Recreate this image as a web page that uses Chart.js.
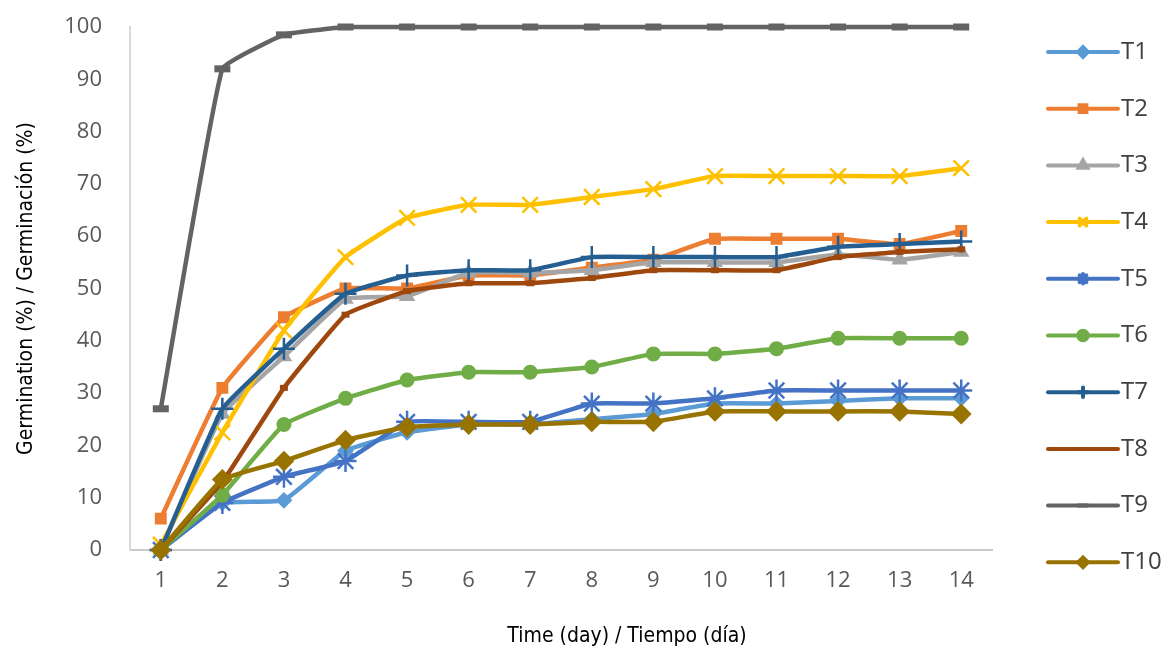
<!DOCTYPE html>
<html>
<head>
<meta charset="utf-8">
<script src="https://cdn.jsdelivr.net/npm/chart.js@4.4.1/dist/chart.umd.min.js"></script>
<style>
    html, body { margin: 0; padding: 0; background: #fff; }
    #wrap { width: 1168px; height: 653px; }
</style>
</head>
<body>
<div id="wrap"><canvas id="germChart"></canvas></div>
<script>
const days = ["1", "2", "3", "4", "5", "6", "7", "8", "9", "10", "11", "12", "13", "14"];
const yTicks = [0, 10, 20, 30, 40, 50, 60, 70, 80, 90, 100];

const t1 = [0, 9, 9.5, 19, 22.5, 24, 24, 25, 26, 28, 28, 28.5, 29, 29];
const t2 = [6, 31, 44.5, 50, 50, 52.5, 52.5, 54, 55.5, 59.5, 59.5, 59.5, 58.5, 61];
const t3 = [0, 26, 37, 48, 48.5, 53, 53, 53.5, 55, 55, 55, 56.5, 55.5, 57];
const t4 = [1, 22.5, 42, 56, 63.5, 66, 66, 67.5, 69, 71.5, 71.5, 71.5, 71.5, 73];
const t5 = [0, 9, 14, 17, 24.5, 24.5, 24.5, 28, 28, 29, 30.5, 30.5, 30.5, 30.5];
const t6 = [0, 10.5, 24, 29, 32.5, 34, 34, 35, 37.5, 37.5, 38.5, 40.5, 40.5, 40.5];
const t7 = [0, 27, 38.5, 49, 52.5, 53.5, 53.5, 56, 56, 56, 56, 58, 58.5, 59];
const t8 = [0, 13, 31, 45, 49.5, 51, 51, 52, 53.5, 53.5, 53.5, 56, 57, 57.5];
const t9 = [27, 92, 98.5, 100, 100, 100, 100, 100, 100, 100, 100, 100, 100, 100];
const t10 = [0, 13.5, 17, 21, 23.5, 24, 24, 24.5, 24.5, 26.5, 26.5, 26.5, 26.5, 26];

const seriesNames = ["T1", "T2", "T3", "T4", "T5", "T6", "T7", "T8", "T9", "T10"];
const seriesData = [t1, t2, t3, t4, t5, t6, t7, t8, t9, t10];
const colors = ["#5B9BD5", "#ED7D31", "#A5A5A5", "#FFC000", "#4472C4",
                "#70AD47", "#255E91", "#9E480E", "#636363", "#997300"];
// marker style per series: [pointStyle, radius, borderWidth]
const markers = [
    ["rectRot", 7, 2], ["rect", 7, 2], ["triangle", 7.5, 2], ["crossRot", 11, 2.5], ["star", 11, 2.5],
    ["circle", 6.5, 2], ["cross", 11, 2.5], ["line", 4, 6], ["line", 8, 7], ["rectRot", 9, 2]
];

const titleFamily = "'Liberation Sans Narrow', 'DejaVu Sans Condensed', 'Roboto', sans-serif";
const titleFont = { family: titleFamily, size: 21 };
const tickFont = { family: "'Open Sans', sans-serif", size: 22 };

const datasets = seriesNames.map((name, i) => ({
    label: name,
    data: seriesData[i],
    borderColor: colors[i],
    backgroundColor: colors[i],
    borderWidth: 4.5,
    tension: 0.1,
    pointStyle: markers[i][0],
    pointRadius: markers[i][1],
    pointBorderWidth: markers[i][2],
    pointBorderColor: colors[i],
    pointBackgroundColor: colors[i],
    clip: false,
    order: seriesNames.length - i
}));

// legend drawn like the spreadsheet one: a line with a small marker, then the name
// plus the x axis title, which sits right of the plot centre in the original
const sideLegend = {
    id: "sideLegend",
    afterDraw(chart) {
        const ctx = chart.ctx;
        const x0 = 1048, x1 = 1118, top = 52, step = 56.7;
        ctx.save();
        datasets.forEach((ds, i) => {
            const y = top + i * step;
            ctx.strokeStyle = ds.borderColor;
            ctx.lineWidth = 4;
            ctx.lineCap = "round";
            ctx.beginPath();
            ctx.moveTo(x0, y);
            ctx.lineTo(x1, y);
            ctx.stroke();
            ctx.fillStyle = ds.backgroundColor;
            Chart.helpers.drawPoint(ctx, {
                pointStyle: ds.pointStyle,
                radius: Math.min(ds.pointRadius, 6) * 0.8,
                borderWidth: 2,
                rotation: 0
            }, (x0 + x1) / 2, y);
            ctx.fillStyle = "#404040";
            ctx.font = "24px 'Open Sans', sans-serif";
            ctx.textBaseline = "middle";
            ctx.textAlign = "left";
            ctx.fillText(ds.label, x1 + 3, y);
        });
        ctx.fillStyle = "#000";
        ctx.font = "21px " + titleFamily;
        ctx.textAlign = "center";
        ctx.textBaseline = "middle";
        ctx.fillText("Time (day) / Tiempo (día)", 627, 637);
        ctx.restore();
    }
};

new Chart(document.getElementById("germChart"), {
    type: "line",
    data: { labels: days, datasets },
    plugins: [sideLegend],
    options: {
        responsive: true,
        maintainAspectRatio: false,
        animation: false,
        layout: { autoPadding: false, padding: { left: 0, right: 176, top: 27, bottom: 0 } },
        plugins: {
            legend: { display: false },
            tooltip: { enabled: false }
        },
        scales: {
            x: {
                offset: true,
                grid: { display: false, drawTicks: false },
                border: { color: "#c8c8c8", width: 2 },
                ticks: { color: "#595959", font: tickFont, padding: 18, maxRotation: 0 },
                afterFit: (scale) => { scale.height = 103; }
            },
            y: {
                min: 0,
                max: 100,
                afterBuildTicks: (scale) => { scale.ticks = yTicks.map((v) => ({ value: v })); },
                grid: { display: false, drawTicks: false },
                border: { color: "#d9d9d9", width: 2 },
                ticks: { color: "#595959", font: tickFont, padding: 28 },
                title: {
                    display: true,
                    text: "Germination (%) / Germinación (%)",
                    color: "#000",
                    font: titleFont,
                    padding: { top: 14, bottom: 0 }
                },
                afterFit: (scale) => {
                    scale.width = 130;
                    scale.paddingTop = 14;
                    scale.paddingBottom = 14;
                }
            }
        }
    }
});
</script>
</body>
</html>
